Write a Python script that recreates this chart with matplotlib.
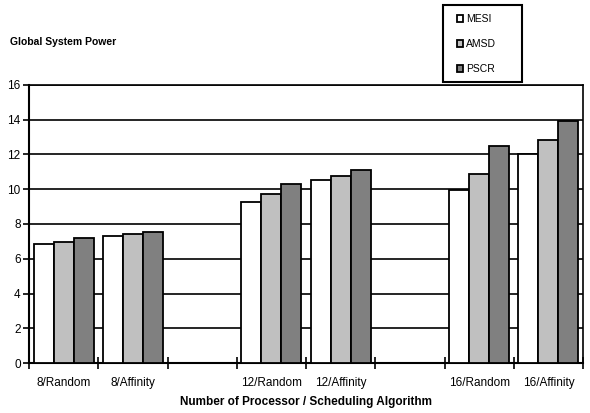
import matplotlib
matplotlib.use("Agg")
import matplotlib.pyplot as plt
import numpy as np
from matplotlib.patches import Patch, Rectangle

categories = ['8/Random', '8/Affinity', '12/Random', '12/Affinity', '16/Random', '16/Affinity']
series = ['MESI', 'AMSD', 'PSCR']
mesi = [6.85, 7.3, 9.28, 10.55, 9.97, 12.05]
amsd = [6.96, 7.42, 9.73, 10.78, 10.9, 12.85]
pscr = [7.19, 7.54, 10.3, 11.12, 12.5, 13.93]
colors = ['#FFFFFF', '#C0C0C0', '#808080']
yticks = [0, 2, 4, 6, 8, 10, 12, 14, 16]

fam = ['Liberation Sans Narrow', 'Liberation Sans', 'DejaVu Sans']
plt.rcParams['font.family'] = fam

W, H = 590, 413
fig = plt.figure(figsize=(W / 100, H / 100), dpi=100)
ax = fig.add_axes([29 / W, (H - 363) / H, 554 / W, 278 / H])

# slot positions: gaps after each pair
slots = np.array([i + i // 2 for i in range(len(categories))], dtype=float)
bw = 0.289
for k, (vals, c, name) in enumerate(zip([mesi, amsd, pscr], colors, series)):
    x = slots + 0.5 + (k - 1) * bw
    ax.bar(x, vals, width=bw, color=c, edgecolor='black', linewidth=1.3, zorder=3, label=name)

ax.set_xlim(0, 8)
ax.set_ylim(0, 16)
ax.set_yticks(yticks)
ax.set_yticklabels([str(t) for t in yticks], fontsize=8.5)
ax.yaxis.grid(True, color='black', linewidth=1.2, zorder=0)
ax.set_axisbelow(True)

ax.set_xticks(np.arange(0, 9))
ax.set_xticklabels([])
ax.set_xticks(slots + 0.5, minor=True)
ax.set_xticklabels(categories, minor=True, fontsize=8.5)
ax.tick_params(axis='x', which='minor', length=0, pad=10)
ax.tick_params(axis='x', which='major', direction='inout', length=8, width=1.2)
ax.tick_params(axis='y', direction='out', length=4, width=1.2, pad=2)
for s in ax.spines.values():
    s.set_linewidth(1.2)
    s.set_color('black')
ax.spines['left'].set_linewidth(1.5)
ax.spines['bottom'].set_linewidth(1.5)

ax.set_xlabel('Number of Processor / Scheduling Algorithm', fontsize=8.5,
              fontweight='bold', family=['Liberation Sans', 'DejaVu Sans'], labelpad=5)

fig.text(10 / W, 1 - 42 / H, 'Global System Power', fontsize=7.5, fontweight='bold',
         family=['Liberation Sans', 'DejaVu Sans'], va='center', ha='left')

handles = [Patch(facecolor=c, edgecolor='black', linewidth=1.3, label=n) for c, n in zip(colors, series)]
leg = fig.legend(handles=handles, loc='upper left', bbox_to_anchor=(455 / W, 1 - 12 / H),
                 frameon=False, fontsize=7.5,
                 handlelength=0.6, handleheight=0.6, handletextpad=0.3,
                 labelspacing=1.45, borderpad=0.2, borderaxespad=0)
fig.patches.append(Rectangle((443 / W, 1 - 82 / H), 79 / W, 77 / H, transform=fig.transFigure,
                             facecolor='none', edgecolor='black', linewidth=1.5, figure=fig))

fig.savefig('out.png', dpi=100)
